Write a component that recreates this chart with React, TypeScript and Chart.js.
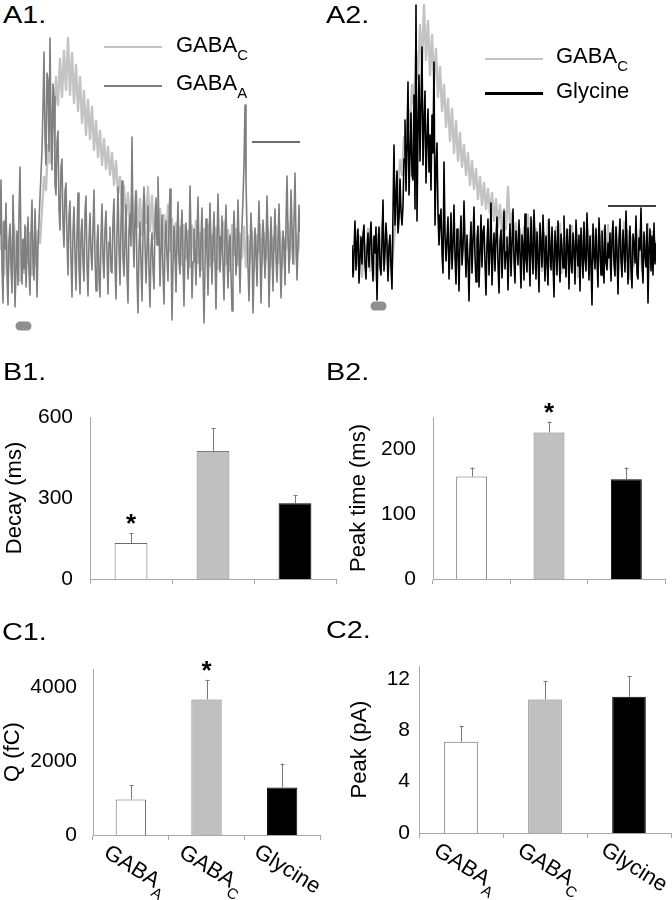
import React, { useEffect, useRef } from "react";
import { Chart, registerables } from "chart.js";
Chart.register(...registerables);

const FONT = "'Liberation Sans', Arial, Helvetica, sans-serif";

// ---------- Traces (current in pA) ----------
// dark / black traces sampled every 5 ms, light GABA_C traces every 10 ms
const FINE_MS = 5;
const COARSE_MS = 10;

const a1GabaA = [
 2.0,7.5,-1.2,-4.8,3.4,0.6,5.2,-2.1,-5.0,1.5,
 3.1,-0.8,-3.8,6.0,1.2,-5.2,-1.6,2.4,-3.0,4.1,
 8.8,0.5,-2.9,1.6,-1.4,3.0,-3.2,0.2,3.8,-1.7,
 -4.0,2.1,5.5,-0.6,-2.5,4.6,1.0,-4.2,0.8,3.3,
 5.8,8.1,10.5,14.8,20.3,11.6,9.0,18.2,17.5,10.4,
 21.7,13.0,8.5,17.1,15.8,7.0,6.0,11.3,12.4,4.6,
 2.5,8.8,9.6,3.1,0.8,6.4,7.2,1.5,-2.0,3.9,
 5.4,-0.5,-4.2,2.3,4.8,0.1,-3.5,1.9,6.2,-1.3,
 -3.9,2.0,3.6,-0.7,-2.6,4.3,5.9,-1.1,-4.1,1.4,
 4.2,0.3,-1.5,2.7,6.5,-0.2,-3.6,1.1,3.0,-2.4,
 -4.2,1.8,5.1,-0.4,-2.3,2.6,4.4,0.0,-3.9,1.3,
 2.8,-1.6,-1.8,3.5,5.6,-0.9,-4.4,2.2,6.8,0.7,
 -3.0,3.2,7.4,-0.3,-2.1,1.6,5.0,-1.9,-4.8,2.5,
 4.1,0.9,11.8,2.4,-1.2,3.7,6.4,-2.2,-5.8,0.6,
 3.3,-0.8,-4.6,2.0,6.8,1.1,-2.8,0.4,4.9,-1.5,
 -5.2,0.7,2.2,-1.4,-3.4,3.1,5.7,1.0,7.8,2.6,
 -3.1,0.5,4.0,-1.8,-4.9,1.2,3.4,-0.1,-2.6,2.9,
 6.6,1.4,-6.5,-1.0,2.9,0.3,-3.7,1.7,5.3,-0.6,
 -1.9,2.2,4.5,-0.9,-5.1,0.8,3.2,1.5,-2.4,0.0,
 6.9,2.0,-4.3,-0.7,2.6,0.4,-3.0,1.9,5.8,0.2,
 -2.2,1.6,4.7,-1.3,-6.8,-1.0,3.6,0.5,-4.0,1.1,
 5.2,0.8,-2.9,1.4,4.3,-0.5,-5.4,0.9,6.1,1.8,
 -1.7,0.4,3.9,-1.2,-4.5,1.6,5.0,0.2,-3.3,1.0,
 2.0,-1.9,-5.6,0.6,4.4,1.3,-2.0,0.1,5.5,0.9,
 -3.8,0.7,3.0,5.6,9.0,15.0,7.4,2.5,-1.2,-4.6,
 0.3,4.2,1.1,-5.8,-1.6,2.7,0.5,-3.1,1.4,5.4,
 0.6,-4.8,-0.2,3.5,1.2,-2.3,0.8,5.9,1.9,-5.2,
 -0.9,3.8,0.4,-3.6,1.5,4.6,-0.3,-2.7,1.0,5.1,
 0.2,-4.3,-0.5,2.4,1.0,-3.0,3.3,7.9,2.1,-1.8,
 1.2,6.5,2.8,-0.9,3.4,8.2,1.6,-2.5,0.8,5.0,
 2.3];

const a1GabaC = [0.5,3.2,-2.0,2.5,-1.6,1.8,-2.4,3.0,-1.2,2.0,
 -2.6,1.4,-1.8,2.7,-0.8,2.2,-2.0,1.5,-1.0,2.4,
 1.2,4.5,7.8,6.5,11.0,9.2,14.5,12.6,17.8,15.0,
 19.6,15.8,20.4,16.5,21.7,16.0,20.2,15.2,19.0,14.4,
 17.8,13.2,16.4,12.0,15.5,11.6,14.8,10.5,13.4,9.8,
 12.4,9.0,11.6,8.6,10.8,8.0,10.2,7.0,9.4,6.2,
 7.8,4.6,6.9,3.8,6.2,3.0,5.8,2.5,6.4,2.8,
 5.6,2.0,6.0,3.2,6.8,2.4,5.9,1.6,5.2,1.0,
 4.6,0.6,4.0,1.2,5.0,0.4,3.6,-0.5,3.2,0.2,
 2.8,-1.0,3.0,-0.4,2.4,-1.2,2.9,0.0,3.4,-0.8,
 2.2,-1.5,2.6,0.3,3.1,-1.1,2.0,-0.6,2.7,-1.4,
 1.8,0.5,3.3,-0.9,2.5,-1.6,3.0,0.0,2.6,-1.0,
 2.1,-0.3,2.8,-1.2,1.9,-0.7,2.4,-1.5,2.0,0.2,
 3.0,-1.0,2.2,-0.5,2.7,-1.3,1.8,0.4,2.9,-0.8,
 2.3,-1.1,1.6,0.6,3.2,-0.4,2.5,-0.9,2.1,0.3,
 2.4];

const a1ScaleBarT = [1260, 1500];
const a1ScaleBarY = 11.3;
const a1StimT = [100, 135];
const a1StimY = -7.1;

const a2Glycine = [
 1.0,-2.2,0.4,3.4,-1.5,1.2,2.6,-2.8,-0.3,1.8,
 -0.9,2.1,3.0,-1.0,-2.4,0.6,2.2,-1.2,1.5,3.3,
 -0.5,-2.6,1.9,0.2,2.8,-4.5,0.7,2.8,-1.1,-2.0,
 1.4,5.5,-1.6,0.3,3.2,1.1,-2.6,0.9,2.0,-1.3,
 -3.4,4.2,11.0,3.0,5.8,8.4,2.2,3.6,7.6,4.4,
 3.0,5.0,9.6,13.5,6.4,10.8,17.3,6.0,9.9,14.2,
 8.0,7.5,16.0,4.6,25.0,3.4,12.6,18.0,9.4,15.1,
 20.8,9.0,13.2,16.4,7.2,11.5,14.6,8.3,12.0,6.5,
 14.0,10.2,19.3,3.0,8.6,11.2,4.0,1.0,3.2,4.6,
 0.2,-1.8,9.3,2.1,-0.6,1.6,3.8,-2.4,0.5,4.2,
 -1.4,1.0,5.0,-0.2,-2.9,2.6,0.8,-3.6,1.3,3.9,
 -1.0,0.6,5.4,1.2,-2.2,2.0,-0.4,-4.6,0.9,3.3,
 -1.8,1.5,4.8,-0.1,-2.7,1.6,2.9,-3.2,0.2,4.0,
 -1.2,2.3,2.9,-0.8,-4.0,1.1,3.6,-2.0,0.6,5.2,
 -3.0,0.4,2.2,-1.6,1.8,3.8,-0.9,-3.8,1.4,2.5,
 -2.3,0.7,4.4,-1.4,0.3,1.8,-3.5,0.5,3.1,-2.1,
 1.2,4.6,-0.6,-2.8,2.4,0.9,-1.0,3.5,0.1,-3.3,
 2.0,1.0,-2.5,4.1,-0.4,-1.7,2.7,0.8,-3.1,3.8,
 0.5,-1.9,4.5,1.3,-2.4,2.3,-0.2,-3.7,3.2,1.0,
 -1.2,4.0,0.6,-2.6,1.9,-0.7,-3.0,3.6,0.4,-1.5,
 2.8,-0.5,-4.2,2.4,0.9,-2.0,3.4,0.2,-2.7,2.1,
 0.7,-1.3,3.9,-0.3,-2.2,2.6,1.0,-3.4,3.0,-0.6,
 -1.8,2.2,0.5,-2.9,3.5,0.8,-1.1,2.0,-3.6,2.7,
 0.3,-2.3,3.3,-0.4,-1.6,4.2,0.6,-2.5,1.9,-0.8,
 -5.0,3.1,0.2,-1.4,2.6,-0.5,-3.2,3.7,0.9,-2.0,
 2.4,0.1,-2.8,3.0,-0.7,-1.5,1.2,-0.3,2.2,-2.6,
 1.6,3.4,-0.9,-2.1,2.8,0.4,-3.9,1.5,3.6,-0.6,
 -2.2,2.5,0.7,-1.7,4.4,1.0,-2.9,0.3,2.9,-1.4,
 -3.3,2.1,1.1,-0.8,3.9,-1.9,-2.4,1.7,0.5,4.7,
 -0.7,-2.8,2.3,0.0,-1.2,3.1,-4.8,0.8,2.6,-1.6,
 1.9,-2.0,3.2,-0.9,1.2];

const a2GabaC = [0.6,-1.8,2.4,-1.0,1.9,-2.2,1.2,-0.5,2.6,-1.6,
 1.5,-0.8,-2.5,2.0,-1.4,3.2,-1.0,2.4,-1.8,1.6,
 -1.2,1.5,4.0,7.0,9.5,8.0,11.8,10.5,14.6,12.8,
 17.0,15.0,20.5,17.6,23.0,19.0,25.0,19.5,23.4,18.0,
 22.0,17.2,20.6,15.8,18.8,14.4,17.0,12.8,15.6,11.4,
 14.6,10.2,13.4,9.4,12.2,8.8,11.0,8.0,10.2,7.0,
 9.4,6.6,8.6,5.6,7.8,5.0,7.2,4.6,6.6,4.2,
 6.2,3.4,5.6,2.8,5.0,2.4,4.6,2.6,6.8,3.0,
 4.2,1.6,3.2,1.0,2.6,0.4,2.8,-0.6,4.0,0.0,
 3.4,-1.4,2.6,-0.8,3.0,-1.6,2.2,-0.4,3.4,-1.2,
 2.0,-2.0,2.8,-0.6,3.1,-1.8,1.8,-0.9,2.5,-1.5,
 2.9,-0.3,2.3,-2.2,1.7,-1.0,3.2,-0.7,2.4,-1.9,
 2.0,-0.5,2.7,-1.3,1.9,-2.1,2.6,-0.8,3.0,-1.4,
 2.2,-0.2,2.8,-1.7,2.1,-1.0,3.3,-0.6,2.4,-2.4,
 1.8,-1.1,2.9,-0.4,2.5,-1.6,2.0,-0.9,3.1,-1.3,
 2.3,-0.7,1.5];

const a2ScaleBarT = [1280, 1520];
const a2ScaleBarY = 4.9;
const a2StimT = [115, 150];
const a2StimY = -5.1;

// ---------- Bar summaries ----------
const categories = ["GABA_A", "GABA_C", "Glycine"];
const decayMean = [133, 474, 281];
const decayErr = [37, 85, 30];
const decaySig = [true, false, false];
const decayTicks = [0, 300, 600];
const peakTimeMean = [158, 226, 154];
const peakTimeErr = [14, 17, 18];
const peakTimeSig = [false, true, false];
const peakTimeTicks = [0, 100, 200];
const chargeMean = [965, 3676, 1290];
const chargeErr = [383, 530, 645];
const chargeSig = [false, true, false];
const chargeTicks = [0, 2000, 4000];
const peakMean = [7.1, 10.4, 10.6];
const peakErr = [1.25, 1.4, 1.6];
const peakSig = [false, false, false];
const peakTicks = [0, 4, 8, 12];

const barFill = ["#ffffff", "#c0c0c0", "#000000"];
const barEdge = ["#6a6a6a", "#7a7a7a", "#000000"];
const AXIS = "#a8a8a8";
const ERR = "#7a7a7a";

const toXY = (vals: number[], step: number) => vals.map((v, i) => ({ x: i * step, y: v }));
const hLine = (ts: number[], y: number) => ts.map((t) => ({ x: t, y }));

function TraceChart(props: any) {
  const ref = useRef<HTMLCanvasElement | null>(null);
  const { left, top, width, height, xMax, yMin, yMax, datasets } = props;
  useEffect(() => {
    const chart = new Chart(ref.current as HTMLCanvasElement, {
      type: "line",
      data: { datasets },
      options: {
        animation: false,
        responsive: false,
        events: [],
        layout: { padding: 0 },
        plugins: { legend: { display: false }, tooltip: { enabled: false } },
        elements: { point: { radius: 0 }, line: { tension: 0, borderJoinStyle: "round" } },
        scales: {
          x: { type: "linear", min: 0, max: xMax, display: false },
          y: { type: "linear", min: yMin, max: yMax, display: false },
        },
      },
    } as any);
    return () => chart.destroy();
  }, []);
  return (
    <canvas
      ref={ref}
      width={width}
      height={height}
      style={{ position: "absolute", left, top, width, height }}
    />
  );
}

function barExtras(errs: number[], sig: boolean[], drawLabels: boolean) {
  return {
    id: "barExtras",
    afterDatasetsDraw(chart: any) {
      const ctx = chart.ctx;
      const meta = chart.getDatasetMeta(0);
      const ys = chart.scales.y;
      const xs = chart.scales.x;
      const vals = chart.data.datasets[0].data;
      ctx.save();
      meta.data.forEach((bar: any, i: number) => {
        const yTop = ys.getPixelForValue(vals[i] + errs[i]);
        const x = Math.round(bar.x) + 0.5;
        ctx.strokeStyle = ERR;
        ctx.lineWidth = 1;
        ctx.beginPath();
        ctx.moveTo(x, bar.y);
        ctx.lineTo(x, yTop);
        ctx.moveTo(x - 2, Math.round(yTop) + 0.5);
        ctx.lineTo(x + 2, Math.round(yTop) + 0.5);
        ctx.stroke();
        if (sig[i]) {
          ctx.fillStyle = "#000";
          ctx.font = `bold 26px ${FONT}`;
          ctx.textAlign = "center";
          ctx.textBaseline = "alphabetic";
          ctx.fillText("*", bar.x, yTop - 1);
        }
      });
      if (drawLabels) {
        const axisY = xs.top;
        chart.data.labels.forEach((lab: string, i: number) => {
          const parts = lab.split("_");
          const main = parts[0];
          const sub = parts[1] || "";
          ctx.font = `22px ${FONT}`;
          const w1 = ctx.measureText(main).width;
          ctx.font = `15px ${FONT}`;
          const w2 = sub ? ctx.measureText(sub).width : 0;
          const w = w1 + w2;
          ctx.save();
          ctx.translate(xs.getPixelForValue(i) + 6, axisY + 33);
          ctx.rotate((32 * Math.PI) / 180);
          ctx.fillStyle = "#000";
          ctx.textAlign = "left";
          ctx.textBaseline = "alphabetic";
          ctx.font = `22px ${FONT}`;
          ctx.fillText(main, -w / 2, 8);
          if (sub) {
            ctx.font = `15px ${FONT}`;
            ctx.fillText(sub, -w / 2 + w1, 16);
          }
          ctx.restore();
        });
      }
      ctx.restore();
    },
  };
}

function BarChart(props: any) {
  const ref = useRef<HTMLCanvasElement | null>(null);
  const { left, top, width, height, area, means, errs, sig, yMax, tickVals, yTitle, titlePad, tickPad, xLabels } = props;
  const X_AXIS_H = 10;
  useEffect(() => {
    const chart = new Chart(ref.current as HTMLCanvasElement, {
      type: "bar",
      data: {
        labels: categories,
        datasets: [
          {
            data: means,
            backgroundColor: barFill,
            borderColor: barEdge,
            borderWidth: 1,
            categoryPercentage: 1,
            barPercentage: 0.4,
          },
        ],
      },
      options: {
        animation: false,
        responsive: false,
        events: [],
        layout: {
          padding: {
            left: 0,
            top: area.t - top,
            right: left + width - area.r,
            bottom: top + height - area.b - X_AXIS_H,
          },
        },
        plugins: { legend: { display: false }, tooltip: { enabled: false } },
        scales: {
          x: {
            type: "category",
            offset: true,
            grid: {
              display: true,
              drawOnChartArea: false,
              drawTicks: true,
              tickLength: 5,
              offset: true,
              color: AXIS,
              lineWidth: 1,
            },
            border: { display: true, color: AXIS, width: 1 },
            ticks: { display: false },
            afterFit: (s: any) => {
              s.height = X_AXIS_H;
            },
          },
          y: {
            type: "linear",
            min: 0,
            max: yMax,
            grid: { display: false, drawTicks: false },
            border: { display: true, color: AXIS, width: 1 },
            ticks: {
              padding: tickPad,
              color: "#000",
              font: { family: FONT, size: 21 },
              callback: (v: any) => String(v),
            },
            afterBuildTicks: (s: any) => {
              s.ticks = tickVals.map((v: number) => ({ value: v }));
            },
            title: {
              display: true,
              text: yTitle,
              color: "#000",
              font: { family: FONT, size: 22 },
              padding: { top: titlePad, bottom: 0 },
            },
            afterFit: (s: any) => {
              s.width = area.l - left;
            },
          },
        },
      },
      plugins: [barExtras(errs, sig, xLabels)],
    } as any);
    return () => chart.destroy();
  }, []);
  return (
    <canvas
      ref={ref}
      width={width}
      height={height}
      style={{ position: "absolute", left, top, width, height }}
    />
  );
}

function Txt(props: any) {
  const { x, baseline, size, scaleX, children } = props;
  return (
    <div
      style={{
        position: "absolute",
        left: x,
        top: baseline - size * 0.8465,
        fontSize: size,
        lineHeight: `${size}px`,
        fontFamily: FONT,
        color: "#000",
        whiteSpace: "nowrap",
        transform: scaleX ? `scaleX(${scaleX})` : undefined,
        transformOrigin: "left center",
      }}
    >
      {children}
    </div>
  );
}

function Sub(props: any) {
  return <span style={{ fontSize: 15, position: "relative", top: 8 }}>{props.children}</span>;
}

function LegLine(props: any) {
  const { x1, x2, y, w, color } = props;
  return (
    <div
      style={{
        position: "absolute",
        left: x1,
        top: y - w / 2,
        width: x2 - x1,
        height: w,
        background: color,
      }}
    />
  );
}

const DARK = "#7f7f7f";
const LIGHT = "#c3c3c3";
const STIM = "#8f8f8f";

export default function App() {
  const a1Sets = [
    { data: hLine(a1ScaleBarT, a1ScaleBarY), borderColor: "#6f6f6f", borderWidth: 2, pointRadius: 0 },
    { data: hLine(a1StimT, a1StimY), borderColor: STIM, borderWidth: 9, borderCapStyle: "round", pointRadius: 0 },
    { data: toXY(a1GabaA, FINE_MS), borderColor: DARK, borderWidth: 1.6, pointRadius: 0 },
    { data: toXY(a1GabaC, COARSE_MS), borderColor: LIGHT, borderWidth: 2.4, pointRadius: 0 },
  ];
  const a2Sets = [
    { data: hLine(a2ScaleBarT, a2ScaleBarY), borderColor: "#000", borderWidth: 1.5, pointRadius: 0 },
    { data: hLine(a2StimT, a2StimY), borderColor: STIM, borderWidth: 9, borderCapStyle: "round", pointRadius: 0 },
    { data: toXY(a2Glycine, FINE_MS), borderColor: "#000", borderWidth: 1.6, pointRadius: 0 },
    { data: toXY(a2GabaC, COARSE_MS), borderColor: LIGHT, borderWidth: 2.4, pointRadius: 0 },
  ];
  return (
    <div style={{ position: "absolute", left: 0, top: 0, width: 672, height: 900, background: "#fff", overflow: "hidden" }}>
      <TraceChart left={0} top={30} width={300} height={305} xMax={1500} yMin={-8.0} yMax={22.5} datasets={a1Sets} />
      <TraceChart left={352} top={0} width={304} height={315} xMax={1520} yMin={-6.0} yMax={25.5} datasets={a2Sets} />

      <BarChart left={0} top={360} width={340} height={270} area={{ l: 90, t: 417, r: 336, b: 579 }}
        means={decayMean} errs={decayErr} sig={decaySig} yMax={600} tickVals={decayTicks}
        yTitle="Decay (ms)" titlePad={2} tickPad={17} xLabels={false} />
      <BarChart left={336} top={360} width={336} height={270} area={{ l: 433, t: 417, r: 665, b: 579 }}
        means={peakTimeMean} errs={peakTimeErr} sig={peakTimeSig} yMax={250} tickVals={peakTimeTicks}
        yTitle="Peak time (ms)" titlePad={10} tickPad={17} xLabels={false} />
      <BarChart left={0} top={615} width={336} height={285} area={{ l: 93, t: 669, r: 320, b: 835 }}
        means={chargeMean} errs={chargeErr} sig={chargeSig} yMax={4500} tickVals={chargeTicks}
        yTitle="Q (fC)" titlePad={0} tickPad={16} xLabels={true} />
      <BarChart left={336} top={615} width={336} height={285} area={{ l: 419, t: 666, r: 671, b: 833 }}
        means={peakMean} errs={peakErr} sig={peakSig} yMax={13} tickVals={peakTicks}
        yTitle="Peak (pA)" titlePad={11} tickPad={9} xLabels={true} />

      <Txt x={3} baseline={23} size={24} scaleX={1.2}>A1.</Txt>
      <Txt x={326} baseline={23} size={24} scaleX={1.2}>A2.</Txt>
      <Txt x={3} baseline={380} size={24} scaleX={1.2}>B1.</Txt>
      <Txt x={326} baseline={380} size={24} scaleX={1.2}>B2.</Txt>
      <Txt x={2} baseline={640} size={24} scaleX={1.2}>C1.</Txt>
      <Txt x={326} baseline={638} size={24} scaleX={1.2}>C2.</Txt>

      <LegLine x1={104} x2={162} y={47} w={2.5} color={LIGHT} />
      <LegLine x1={104} x2={162} y={86} w={2.5} color={DARK} />
      <Txt x={176} baseline={53} size={22}>GABA<Sub>C</Sub></Txt>
      <Txt x={176} baseline={91} size={22}>GABA<Sub>A</Sub></Txt>

      <LegLine x1={485} x2={543} y={59} w={2.5} color={LIGHT} />
      <LegLine x1={485} x2={543} y={93} w={3} color="#000" />
      <Txt x={556} baseline={64} size={22}>GABA<Sub>C</Sub></Txt>
      <Txt x={556} baseline={99} size={22}>Glycine</Txt>
    </div>
  );
}
